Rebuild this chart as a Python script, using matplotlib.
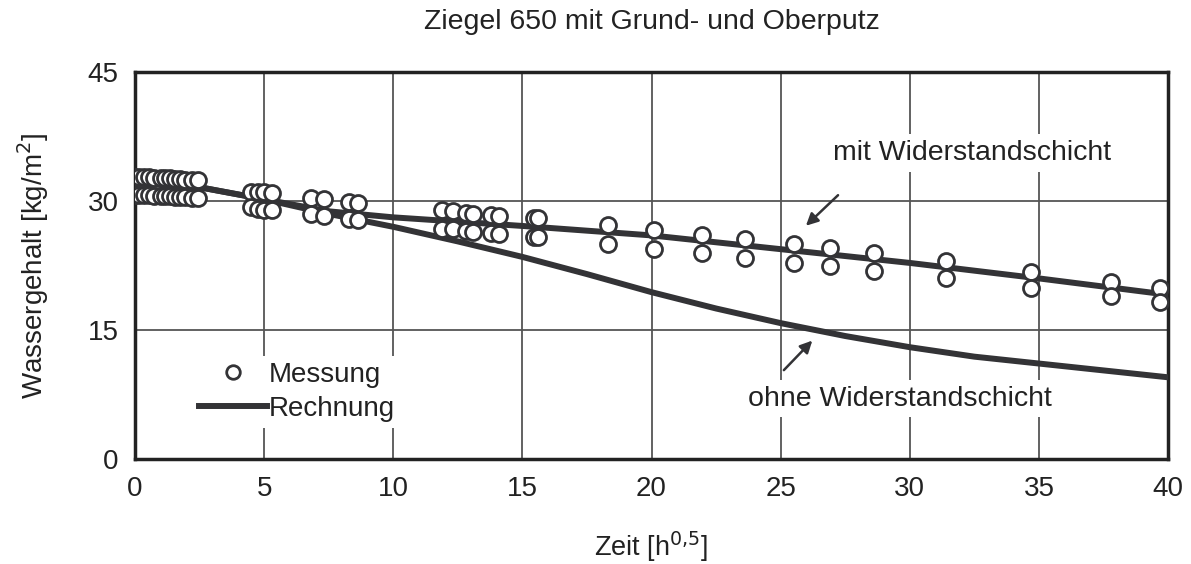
# Ziegel 650 mit Grund- und Oberputz: Wassergehalt ueber Wurzel der Zeit
import numpy as np
import matplotlib.pyplot as plt

plt.rcParams['font.family'] = ['Liberation Sans', 'DejaVu Sans']

dark = '#333336'

# Messung (zwei Reihen je Zeitpunkt)
t_mess = [0.0, 0.15, 0.35, 0.55, 0.75, 1.0, 1.15, 1.35, 1.55, 1.75, 1.95, 2.2, 2.45,
          4.5, 4.75, 5.0, 5.3,
          6.8, 7.3, 8.3, 8.65,
          11.9, 12.3, 12.8, 13.1, 13.8, 14.1, 15.45, 15.6,
          18.3, 20.1, 21.95, 23.6, 25.5, 26.9, 28.6, 31.4, 34.7, 37.8, 39.7]
w_oben = [32.8, 32.8, 32.8, 32.8, 32.7, 32.7, 32.7, 32.7, 32.6, 32.6, 32.5, 32.5, 32.4,
          31.1, 31.0, 31.0, 30.9,
          30.4, 30.2, 29.9, 29.8,
          28.9, 28.8, 28.6, 28.5, 28.4, 28.3, 28.0, 28.0,
          27.2, 26.6, 26.1, 25.6, 25.0, 24.5, 24.0, 23.0, 21.8, 20.6, 19.9]
w_unten = [30.7, 30.7, 30.7, 30.7, 30.6, 30.6, 30.6, 30.6, 30.5, 30.5, 30.5, 30.4, 30.4,
           29.3, 29.1, 29.0, 29.0,
           28.5, 28.2, 27.9, 27.8,
           26.8, 26.7, 26.5, 26.4, 26.3, 26.2, 25.8, 25.8,
           25.0, 24.4, 23.9, 23.4, 22.8, 22.4, 21.9, 21.0, 19.9, 18.9, 18.2]

# Rechnung mit Widerstandschicht
t_mit = [0, 2.5, 5, 7.5, 10, 12.5, 15, 20, 25, 30, 35, 40]
w_mit = [32.1, 31.6, 30.2, 28.8, 28.1, 27.6, 27.1, 26.0, 24.4, 22.8, 21.0, 19.1]

# Rechnung ohne Widerstandschicht
t_ohne = [0, 2.5, 5, 7.5, 10, 12.5, 15, 17.5, 20, 22.5, 25, 27.5, 30, 32.5, 35, 37.5, 40]
w_ohne = [32.1, 31.6, 30.2, 28.5, 27.0, 25.3, 23.5, 21.5, 19.4, 17.5, 15.8, 14.3, 13.0,
          11.9, 11.1, 10.3, 9.5]

fig = plt.figure(figsize=(11.91, 5.64), dpi=100)
ax = fig.add_axes([0.1134, 0.1862, 0.8673, 0.6861])

ax.plot(t_ohne, w_ohne, '-', color=dark, lw=4.3, zorder=3)
ax.plot(t_mit, w_mit, '-', color=dark, lw=4.3, zorder=3, label='Rechnung')
ax.plot(t_mess, w_oben, 'o', ms=11.5, mfc='white', mec=dark, mew=2.0, zorder=4,
        label='Messung')
ax.plot(t_mess, w_unten, 'o', ms=11.5, mfc='white', mec=dark, mew=2.0, zorder=4)

ax.set_xlim(0, 40)
ax.set_ylim(0, 45)
ax.set_xticks(np.arange(0, 41, 5))
ax.set_yticks([0, 15, 30, 45])
ax.grid(True, color='#555555', lw=1.3)
ax.set_axisbelow(True)
ax.tick_params(length=0, labelsize=20, pad=12, colors='#222222')
for s in ax.spines.values():
    s.set_linewidth(2.5)
    s.set_color('#222222')

ax.set_xlabel('Zeit [h$^{0{,}5}$]', fontsize=19.5, labelpad=20, color='#222222')
ax.set_ylabel('Wassergehalt [kg/m$^{2}$]', fontsize=20, labelpad=26, color='#222222')
ax.set_title('Ziegel 650 mit Grund- und Oberputz', fontsize=20.5, pad=31, color='#222222')

# Beschriftungen mit Pfeilen
box = dict(facecolor='white', edgecolor='none', pad=4)
ax.text(32.4, 35.6, 'mit Widerstandschicht', fontsize=20.5, ha='center', va='center',
        bbox=box, zorder=5, color='#222222')
ax.annotate('', xy=(25.9, 26.9), xytext=(27.3, 30.9),
            arrowprops=dict(arrowstyle='-|>', color=dark, lw=1.8, mutation_scale=18),
            zorder=5)
ax.text(29.6, 7.0, 'ohne Widerstandschicht', fontsize=20.5, ha='center', va='center',
        bbox=box, zorder=5, color='#222222')
ax.annotate('', xy=(26.3, 14.0), xytext=(25.05, 10.1),
            arrowprops=dict(arrowstyle='-|>', color=dark, lw=1.8, mutation_scale=18),
            zorder=5)

h, l = ax.get_legend_handles_labels()
leg = ax.legend(h[::-1], l[::-1], loc='lower left', bbox_to_anchor=(0.043, 0.045),
                fontsize=20, frameon=True, handlelength=2.45, handletextpad=0.05,
                labelspacing=0.3, borderpad=0.2, markerscale=0.85)
leg.get_frame().set_edgecolor('none')
leg.get_frame().set_facecolor('white')
leg.get_frame().set_alpha(1)
for t in leg.get_texts():
    t.set_color('#222222')

fig.savefig('out.png', dpi=100)
